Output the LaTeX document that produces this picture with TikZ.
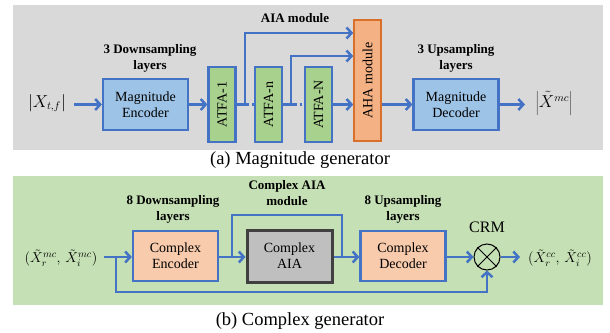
\documentclass[tikz,border=0pt]{standalone}
\usepackage{fontspec}
\setmainfont{Liberation Serif}
\usetikzlibrary{arrows.meta,calc}
\definecolor{bggray}{HTML}{D9D9D9}
\definecolor{bggreen}{HTML}{C5E0B4}
\definecolor{lblue}{HTML}{9DC3E6}
\definecolor{mblue}{HTML}{4472C4}
\definecolor{lgreen}{HTML}{A9D18E}
\definecolor{lorange}{HTML}{F4B183}
\definecolor{dorange}{HTML}{D9702A}
\definecolor{lpeach}{HTML}{F8CBAD}
\definecolor{mgray}{HTML}{BFBFBF}
\definecolor{dgray}{HTML}{404040}
\begin{document}
\begin{tikzpicture}[x=1pt,y=-1pt,
  boxtext/.style={font=\fontsize{14}{16}\selectfont, align=center, inner sep=0pt},
  bluebox/.style={boxtext, draw=mblue, line width=2.2pt, fill=lblue, minimum width=85pt, minimum height=51pt},
  atfabox/.style={boxtext, draw=mblue, line width=2.2pt, fill=lgreen, minimum width=75pt, minimum height=27pt, rotate=90},
  ahabox/.style={boxtext, draw=dorange, line width=1.6pt, fill=lorange, minimum width=121pt, minimum height=27pt, rotate=90},
  peachbox/.style={boxtext, draw=mblue, line width=2.2pt, fill=lpeach, minimum width=85pt, minimum height=50pt},
  graybox/.style={boxtext, draw=dgray, line width=3pt, fill=mgray, minimum width=85pt, minimum height=52pt},
  lbl/.style={font=\bfseries\fontsize{13}{16}\selectfont, align=center, inner sep=0pt},
  mathlbl/.style={font=\fontsize{16}{18}\selectfont, inner sep=0pt},
  pairlbl/.style={font=\fontsize{14.5}{17}\selectfont, inner sep=0pt},
  captext/.style={font=\fontsize{18.5}{20}\selectfont, inner sep=0pt},
  conn/.style={draw=mblue, line width=2.5pt},
  arr/.style={conn, -{Straight Barb[length=5pt,width=11pt]}},
]
\useasboundingbox (0,0) rectangle (610,332);
\fill[bggray] (13,5) rectangle (603,150);
\fill[bggreen] (13,176) rectangle (603,305);

% ---------- (a) Magnitude generator ----------
\node[mathlbl] (xin) at (47,103) {$\left|X_{t,f}\right|$};
\node[bluebox] (enc) at (145.5,104.5) {Magnitude\\Encoder};
\node[atfabox] (atfa1) at (222,104.5) {ATFA-1};
\node[atfabox] (atfan) at (268.5,104.5) {ATFA-n};
\node[atfabox] (atfaN) at (318.5,104.5) {ATFA-N};
\node[ahabox] (aha) at (367.5,80.5) {AHA module};
\node[bluebox] (dec) at (456,104.5) {Magnitude\\Decoder};
\node[mathlbl] (xout) at (554,103) {$\left|\tilde{X}^{mc}\right|$};

\node[lbl] (ldown) at (150,58) {3 Downsampling\\layers};
\node[lbl] (laia) at (295,18) {AIA module};
\node[lbl] (lup) at (456,58) {3 Upsampling\\layers};

\coordinate (x1) at (74,104.5);
\draw[arr] (x1) -- (enc.west);
\draw[arr] (enc.east) -- (atfa1.north);
\coordinate (b1) at (245,104.5);
\coordinate (t1) at (245,33);
\coordinate (b2) at (291,104.5);
\coordinate (t2) at (291,56);
\draw[conn] (atfa1.south) -- (b1);
\draw[conn, dash pattern=on 4pt off 3pt] (b1) -- (atfan.north);
\draw[arr] (b1) -- (t1) -- (t1 -| aha.north);
\draw[conn] (atfan.south) -- (b2);
\draw[conn, dash pattern=on 6pt off 2.5pt on 2pt off 2.5pt] (b2) -- (atfaN.north);
\draw[arr] (b2) -- (t2) -- (t2 -| aha.north);
\draw[arr] (atfaN.south) -- (atfaN.south -| aha.north);
\draw[arr] (dec.west -| aha.south) -- (dec.west);
\coordinate (x2) at (525,104.5);
\draw[arr] (dec.east) -- (x2);

\node[captext] (capa) at (300,160) {(a) Magnitude generator};

% ---------- (b) Complex generator ----------
\node[pairlbl] (cin) at (61,258) {$(\tilde{X}_r^{mc},\,\tilde{X}_i^{mc})$};
\node[peachbox] (cenc) at (175.5,256) {Complex\\Encoder};
\node[graybox] (caia) at (289.5,256) {Complex\\AIA};
\node[peachbox] (cdec) at (403,256) {Complex\\Decoder};
\node[draw=black, line width=1pt, circle, minimum size=26pt, inner sep=0pt] (crm) at (487,257) {};
\draw[line width=1pt] (crm.north west) -- (crm.south east) (crm.north east) -- (crm.south west);
\node[pairlbl] (cout) at (560,258) {$(\tilde{X}_r^{cc},\,\tilde{X}_i^{cc})$};

\node[lbl] (cldown) at (173,209) {8 Downsampling\\layers};
\node[lbl] (claia) at (287,193) {Complex AIA\\module};
\node[lbl] (clup) at (403,209) {8 Upsampling\\layers};
\node[font=\fontsize{16}{18}\selectfont, inner sep=0pt] (lcrm) at (487,227) {CRM};

\coordinate (c0) at (104,257);
\coordinate (c1) at (116,257);
\coordinate (c2) at (116,292);
\coordinate (c3) at (487,292);
\draw[arr] (c0) -- (cenc.west |- c0);
\draw[arr] (c1) -- (c2) -- (c3) -- (crm.south);
\coordinate (d1) at (232,257);
\coordinate (d2) at (232,215);
\coordinate (d3) at (342,215);
\coordinate (d4) at (342,257);
\draw[arr] (cenc.east |- d1) -- (caia.west |- d1);
\draw[conn] (d1) -- (d2) -- (d3) -- (d4);
\draw[conn] (caia.east |- d4) -- (d4);
\draw[arr] (d4) -- (cdec.west |- d4);
\draw[arr] (cdec.east |- crm.west) -- (crm.west);
\coordinate (e1) at (520,257);
\draw[arr] (crm.east) -- (e1);

\node[captext] (capb) at (300,321) {(b) Complex generator};
\end{tikzpicture}
\end{document}
